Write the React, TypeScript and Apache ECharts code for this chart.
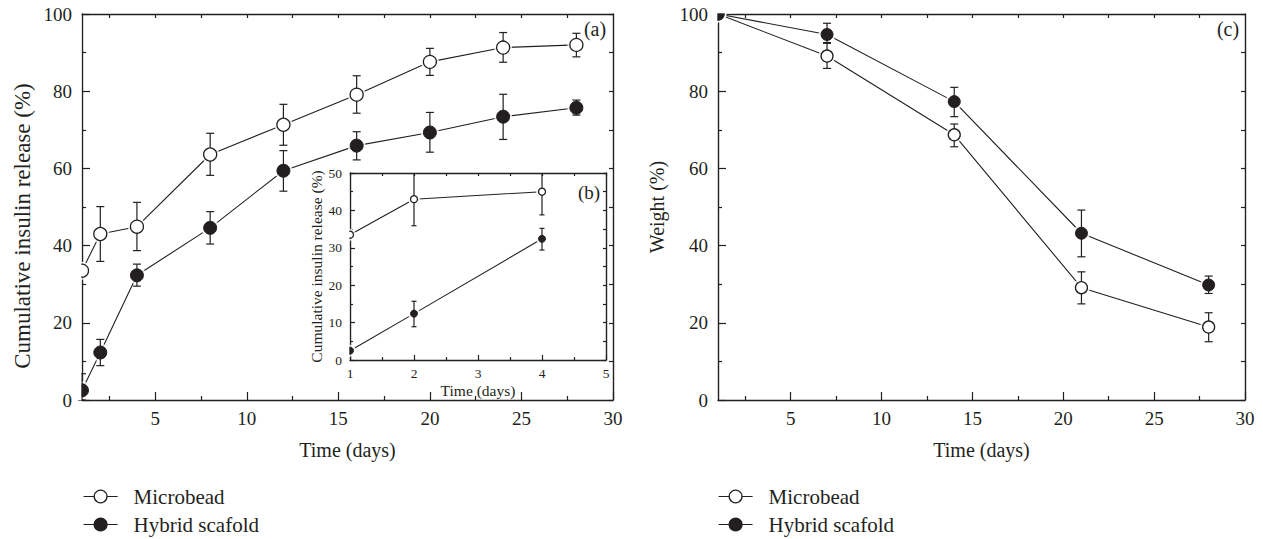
import React, { useEffect, useRef } from "react";
import * as echarts from "echarts";

const FONT = '"Liberation Serif", "Times New Roman", Times, serif';
const INK = "#231f20";

// ---------- Panel (a): cumulative insulin release ----------
const releaseDays = [1, 2, 4, 8, 12, 16, 20, 24, 28];
const releaseMicrobead = [33.5, 43.0, 44.9, 63.6, 71.3, 79.1, 87.6, 91.3, 92.0];
const releaseMicrobeadLow = [33.5, 35.9, 38.7, 58.2, 66.0, 74.3, 84.1, 87.5, 88.9];
const releaseMicrobeadHigh = [33.5, 50.1, 51.2, 69.1, 76.6, 84.0, 91.1, 95.2, 95.0];
const releaseHybrid = [2.5, 12.3, 32.3, 44.6, 59.4, 65.9, 69.3, 73.4, 75.7];
const releaseHybridLow = [0, 8.9, 29.5, 40.4, 54.1, 62.2, 64.2, 67.5, 73.8];
const releaseHybridHigh = [6.8, 15.7, 35.2, 48.8, 64.6, 69.5, 74.5, 79.2, 77.7];

// ---------- Panel (b): inset, first days ----------
const insetDays = [1, 2, 4];
const insetMicrobead = [33.5, 43.0, 45.0];
const insetMicrobeadLow = [33.5, 35.9, 38.8];
const insetMicrobeadHigh = [33.5, 50.5, 51.2];
const insetHybrid = [2.5, 12.4, 32.4];
const insetHybridLow = [2.5, 8.9, 29.4];
const insetHybridHigh = [2.5, 15.7, 35.2];

// ---------- Panel (c): weight ----------
const weightDays = [1, 7, 14, 21, 28];
const weightMicrobead = [100, 89.1, 68.7, 29.1, 18.9];
const weightMicrobeadLow = [100, 85.9, 65.6, 24.9, 15.1];
const weightMicrobeadHigh = [100, 92.6, 71.5, 33.2, 22.6];
const weightHybrid = [100, 94.7, 77.3, 43.2, 29.8];
const weightHybridLow = [100, 92.4, 73.4, 37.1, 27.6];
const weightHybridHigh = [100, 97.6, 81.0, 49.2, 32.1];

// ---------- ticks ----------
const dayTicks = [5, 10, 15, 20, 25, 30];
const dayMinorTicks = [2.5, 7.5, 12.5, 17.5, 22.5, 27.5];
const dayMirrorTicks = [2.5, 5, 7.5, 10, 12.5, 15, 17.5, 20, 22.5, 25, 27.5];

const seriesNames = ["Microbead", "Hybrid scafold"];
const panelLabels = ["(a)", "(b)", "(c)"];

const axisLineStyle = { color: INK, width: 1.4 };
const tickLineStyle = { color: INK, width: 1.2 };

function zip(xs: number[], ys: number[]) {
  return xs.map((x, i) => [x, ys[i]]);
}
function zipErr(xs: number[], lo: number[], hi: number[]) {
  return xs.map((x, i) => [x, lo[i], hi[i]]);
}

function errorBarRender(capHalf: number) {
  return (params: any, api: any) => {
    const x = api.value(0);
    const lo = api.value(1);
    const hi = api.value(2);
    if (!(hi - lo > 0)) return { type: "group", children: [] };
    const cs = params.coordSys;
    const top = api.coord([x, hi]);
    const bot = api.coord([x, lo]);
    const yMin = cs.y;
    const yMax = cs.y + cs.height;
    const yTop = Math.max(top[1], yMin);
    const yBot = Math.min(bot[1], yMax);
    const style = { stroke: INK, lineWidth: 1.2, fill: null };
    const children: any[] = [
      { type: "line", shape: { x1: top[0], y1: yTop, x2: top[0], y2: yBot }, style },
    ];
    if (top[1] >= yMin - 0.5) {
      children.push({
        type: "line",
        shape: { x1: top[0] - capHalf, y1: top[1], x2: top[0] + capHalf, y2: top[1] },
        style,
      });
    }
    if (bot[1] <= yMax + 0.5) {
      children.push({
        type: "line",
        shape: { x1: bot[0] - capHalf, y1: bot[1], x2: bot[0] + capHalf, y2: bot[1] },
        style,
      });
    }
    return { type: "group", children };
  };
}

function panelSeries(
  xi: number,
  yi: number,
  xs: number[],
  mb: number[],
  mbLo: number[],
  mbHi: number[],
  hy: number[],
  hyLo: number[],
  hyHi: number[],
  size: number,
  capHalf: number
) {
  const common = { xAxisIndex: xi, yAxisIndex: yi, animation: false };
  return [
    {
      ...common,
      type: "line",
      name: "mb-line-" + xi,
      data: zip(xs, mb),
      symbol: "none",
      lineStyle: { color: INK, width: 1.1 },
      z: 2,
      silent: true,
    },
    {
      ...common,
      type: "line",
      name: "hy-line-" + xi,
      data: zip(xs, hy),
      symbol: "none",
      lineStyle: { color: INK, width: 1.1 },
      z: 2,
      silent: true,
    },
    {
      ...common,
      type: "scatter",
      name: "halo-" + xi,
      data: zip(xs, mb).concat(zip(xs, hy)),
      symbol: "circle",
      symbolSize: size + 5,
      itemStyle: { color: "#ffffff" },
      z: 3,
      silent: true,
    },
    {
      ...common,
      type: "custom",
      name: "mb-err-" + xi,
      data: zipErr(xs, mbLo, mbHi),
      encode: { x: 0, y: [1, 2] },
      renderItem: errorBarRender(capHalf),
      z: 4,
      silent: true,
    },
    {
      ...common,
      type: "custom",
      name: "hy-err-" + xi,
      data: zipErr(xs, hyLo, hyHi),
      encode: { x: 0, y: [1, 2] },
      renderItem: errorBarRender(capHalf),
      z: 4,
      silent: true,
    },
    {
      ...common,
      type: "line",
      name: seriesNames[0],
      data: zip(xs, mb),
      symbol: "circle",
      symbolSize: size,
      showSymbol: true,
      itemStyle: { color: "#ffffff", borderColor: INK, borderWidth: 1.3 },
      lineStyle: { color: INK, width: 1.1, opacity: 0 },
      z: 5,
    },
    {
      ...common,
      type: "line",
      name: seriesNames[1],
      data: zip(xs, hy),
      symbol: "circle",
      symbolSize: size,
      showSymbol: true,
      itemStyle: { color: INK, borderColor: INK, borderWidth: 1 },
      lineStyle: { color: INK, width: 1.1, opacity: 0 },
      z: 5,
    },
  ];
}

function dayXAxes(gridIndex: number) {
  return [
    {
      gridIndex,
      type: "value",
      position: "bottom",
      min: 1,
      max: 30,
      axisLine: { show: true, onZero: false, lineStyle: axisLineStyle },
      axisTick: { show: true, inside: true, length: 8, customValues: dayTicks, lineStyle: tickLineStyle },
      axisLabel: { show: true, customValues: dayTicks, margin: 9, fontFamily: FONT, fontSize: 19, color: INK },
      splitLine: { show: false },
      name: "Time (days)",
      nameLocation: "middle",
      nameGap: 40,
      nameTextStyle: { fontFamily: FONT, fontSize: 20, color: INK },
    },
    {
      gridIndex,
      type: "value",
      position: "bottom",
      min: 1,
      max: 30,
      axisLine: { show: false, onZero: false },
      axisTick: { show: true, inside: true, length: 4, customValues: dayMinorTicks, lineStyle: tickLineStyle },
      axisLabel: { show: false },
      splitLine: { show: false },
    },
    {
      gridIndex,
      type: "value",
      position: "top",
      min: 1,
      max: 30,
      axisLine: { show: true, onZero: false, lineStyle: axisLineStyle },
      axisTick: { show: true, inside: true, length: 4, customValues: dayMirrorTicks, lineStyle: tickLineStyle },
      axisLabel: { show: false },
      splitLine: { show: false },
    },
  ];
}

function percentYAxes(gridIndex: number, name: string, nameSize: number, nameGap: number, namePadding: number[]) {
  return [
    {
      gridIndex,
      type: "value",
      position: "left",
      min: 0,
      max: 100,
      interval: 20,
      axisLine: { show: true, onZero: false, lineStyle: axisLineStyle },
      axisTick: { show: true, inside: true, length: 8, lineStyle: tickLineStyle },
      minorTick: { show: true, splitNumber: 2, length: 4, lineStyle: tickLineStyle },
      axisLabel: { margin: 10, fontFamily: FONT, fontSize: 19, color: INK },
      splitLine: { show: false },
      minorSplitLine: { show: false },
      name,
      nameLocation: "middle",
      nameGap,
      nameTextStyle: { fontFamily: FONT, fontSize: nameSize, color: INK, padding: namePadding },
    },
    {
      gridIndex,
      type: "value",
      position: "right",
      min: 0,
      max: 100,
      interval: 10,
      axisLine: { show: true, onZero: false, lineStyle: axisLineStyle },
      axisTick: { show: true, inside: true, length: 4, lineStyle: tickLineStyle },
      axisLabel: { show: false },
      splitLine: { show: false },
    },
  ];
}

function legendItem(left: number, top: number, name: string) {
  return {
    left,
    top,
    orient: "vertical",
    itemWidth: 34,
    itemHeight: 16,
    itemGap: 0,
    padding: 0,
    selectedMode: false,
    data: [name],
    textStyle: { fontFamily: FONT, fontSize: 21, color: INK, lineHeight: 16, padding: [0, 0, 0, 11] },
    lineStyle: { color: INK, width: 1.2, opacity: 1, type: "solid" },
    itemStyle: { borderWidth: 1.3, borderColor: INK },
  };
}

function mask(x: number, y: number, w: number, h: number) {
  return {
    type: "rect",
    z: 15,
    silent: true,
    shape: { x, y, width: w, height: h },
    style: { fill: "#ffffff", stroke: null },
  };
}

export default function App() {
  const ref = useRef<HTMLDivElement | null>(null);

  useEffect(() => {
    if (!ref.current) return;
    const chart = echarts.init(ref.current, undefined, { renderer: "svg" });

    const option: any = {
      animation: false,
      backgroundColor: "#ffffff",
      grid: [
        { left: 82, top: 14, width: 531, height: 386, containLabel: false },
        { left: 350, top: 173, width: 256, height: 187, containLabel: false, show: true, backgroundColor: "#ffffff", borderWidth: 0 },
        { left: 718, top: 14, width: 527, height: 386, containLabel: false },
      ],
      xAxis: [
        // panel (a): 0,1,2
        ...dayXAxes(0),
        // panel (b): 3,4
        {
          gridIndex: 1,
          type: "value",
          position: "bottom",
          min: 1,
          max: 5,
          interval: 1,
          axisLine: { show: true, onZero: false, lineStyle: axisLineStyle },
          axisTick: { show: true, inside: true, length: 5, lineStyle: tickLineStyle },
          minorTick: { show: true, splitNumber: 2, length: 3, lineStyle: tickLineStyle },
          axisLabel: { margin: 6, fontFamily: FONT, fontSize: 13.5, color: INK },
          splitLine: { show: false },
          minorSplitLine: { show: false },
          name: "Time (days)",
          nameLocation: "middle",
          nameGap: 22,
          nameTextStyle: { fontFamily: FONT, fontSize: 15.5, color: INK },
        },
        {
          gridIndex: 1,
          type: "value",
          position: "top",
          min: 1,
          max: 5,
          interval: 0.5,
          axisLine: { show: true, onZero: false, lineStyle: axisLineStyle },
          axisTick: { show: true, inside: true, length: 3, lineStyle: tickLineStyle },
          axisLabel: { show: false },
          splitLine: { show: false },
        },
        // panel (c): 5,6,7
        ...dayXAxes(2),
      ],
      yAxis: [
        // panel (a): 0,1
        ...percentYAxes(0, "Cumulative insulin release (%)", 23, 48, [0, 38, 0, 0]),
        // panel (b): 2,3
        {
          gridIndex: 1,
          type: "value",
          position: "left",
          min: 0,
          max: 50,
          interval: 10,
          axisLine: { show: true, onZero: false, lineStyle: axisLineStyle },
          axisTick: { show: true, inside: true, length: 5, lineStyle: tickLineStyle },
          minorTick: { show: true, splitNumber: 2, length: 3, lineStyle: tickLineStyle },
          axisLabel: { margin: 8, fontFamily: FONT, fontSize: 13.5, color: INK },
          splitLine: { show: false },
          minorSplitLine: { show: false },
          name: "Cumulative insulin release (%)",
          nameLocation: "middle",
          nameGap: 25,
          nameTextStyle: { fontFamily: FONT, fontSize: 15.5, color: INK },
        },
        {
          gridIndex: 1,
          type: "value",
          position: "right",
          min: 0,
          max: 50,
          interval: 5,
          axisLine: { show: true, onZero: false, lineStyle: axisLineStyle },
          axisTick: { show: true, inside: true, length: 3, lineStyle: tickLineStyle },
          axisLabel: { show: false },
          splitLine: { show: false },
        },
        // panel (c): 4,5
        ...percentYAxes(2, "Weight (%)", 20, 51, [0, 0, 0, 0]),
      ],
      series: [
        ...panelSeries(0, 0, releaseDays, releaseMicrobead, releaseMicrobeadLow, releaseMicrobeadHigh, releaseHybrid, releaseHybridLow, releaseHybridHigh, 13, 4),
        ...panelSeries(3, 2, insetDays, insetMicrobead, insetMicrobeadLow, insetMicrobeadHigh, insetHybrid, insetHybridLow, insetHybridHigh, 7, 2.5),
        ...panelSeries(5, 4, weightDays, weightMicrobead, weightMicrobeadLow, weightMicrobeadHigh, weightHybrid, weightHybridLow, weightHybridHigh, 12, 4),
      ],
      legend: [
        legendItem(83, 486, seriesNames[0]),
        legendItem(83, 514, seriesNames[1]),
        legendItem(718, 486, seriesNames[0]),
        legendItem(718, 514, seriesNames[1]),
      ],
      graphic: [
        // white masks so markers sitting on a frame are cut by it, as in the figure
        mask(73.5, 14, 7.8, 386),
        mask(343, 173, 6.3, 187),
        mask(709.5, 0, 7.8, 24),
        mask(709.5, 0, 26, 13.3),
        {
          type: "text",
          x: 595,
          y: 29,
          z: 20,
          style: { text: panelLabels[0], fontFamily: FONT, fontSize: 20, fill: INK, align: "center", verticalAlign: "middle" },
        },
        {
          type: "text",
          x: 589,
          y: 192,
          z: 20,
          style: { text: panelLabels[1], fontFamily: FONT, fontSize: 19, fill: INK, align: "center", verticalAlign: "middle" },
        },
        {
          type: "text",
          x: 1228,
          y: 29,
          z: 20,
          style: { text: panelLabels[2], fontFamily: FONT, fontSize: 20, fill: INK, align: "center", verticalAlign: "middle" },
        },
      ],
    };

    chart.setOption(option);
    return () => {
      chart.dispose();
    };
  }, []);

  return (
    <div
      ref={ref}
      style={{ position: "fixed", left: 0, top: 0, width: 1263, height: 539, background: "#ffffff" }}
    />
  );
}
